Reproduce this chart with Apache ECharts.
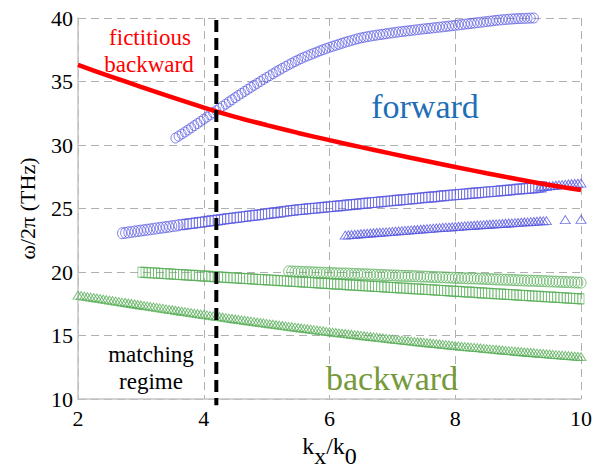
<!DOCTYPE html>
<html><head><meta charset="utf-8">
<script src="https://cdn.jsdelivr.net/npm/echarts@6/dist/echarts.min.js"></script>
<style>html,body{margin:0;padding:0;background:#fff}#c{width:604px;height:470px}</style>
</head><body><div id="c"></div>
<script>
// axis ticks
const xTicks = [2, 4, 6, 8, 10];
const yTicks = [10, 15, 20, 25, 30, 35, 40];
const matchingK = 4.2;

// red line: fictitious backward [k, f]
const fictitiousBackward = [[2,36.3],[2.5,35.43],[3,34.58],[3.5,33.75],[4,32.95],[4.5,32.22],[5,31.57],[5.5,30.95],[6,30.38],[6.5,29.83],[7,29.3],[7.5,28.78],[8,28.27],[8.5,27.78],[9,27.3],[9.5,26.85],[10,26.45]];

// forward (blue) modes
const blueTopCircles = [[3.55,30.55],[3.6,30.7],[3.65,30.86],[3.7,31.02],[3.75,31.18],[3.8,31.35],[3.85,31.52],[3.9,31.69],[3.95,31.86],[4,32.03],[4.05,32.2],[4.1,32.37],[4.15,32.54],[4.2,32.71],[4.25,32.88],[4.3,33.05],[4.35,33.22],[4.4,33.39],[4.45,33.56],[4.5,33.73],[4.55,33.9],[4.6,34.06],[4.65,34.22],[4.7,34.38],[4.75,34.54],[4.8,34.7],[4.85,34.85],[4.9,35],[4.95,35.16],[5,35.31],[5.05,35.46],[5.1,35.61],[5.15,35.76],[5.2,35.9],[5.25,36.04],[5.3,36.18],[5.35,36.31],[5.4,36.44],[5.45,36.57],[5.5,36.69],[5.55,36.81],[5.6,36.92],[5.65,37.02],[5.7,37.12],[5.75,37.22],[5.8,37.32],[5.85,37.42],[5.9,37.51],[5.95,37.6],[6,37.69],[6.05,37.77],[6.1,37.85],[6.15,37.93],[6.2,38.01],[6.25,38.09],[6.3,38.16],[6.35,38.23],[6.4,38.3],[6.45,38.37],[6.5,38.43],[6.55,38.48],[6.6,38.53],[6.65,38.57],[6.7,38.61],[6.75,38.65],[6.8,38.69],[6.85,38.72],[6.9,38.76],[6.95,38.8],[7,38.83],[7.05,38.87],[7.1,38.9],[7.15,38.93],[7.2,38.96],[7.25,38.99],[7.3,39.02],[7.35,39.05],[7.4,39.08],[7.45,39.11],[7.5,39.14],[7.55,39.17],[7.6,39.19],[7.65,39.22],[7.7,39.25],[7.75,39.28],[7.8,39.3],[7.85,39.33],[7.9,39.36],[7.95,39.39],[8,39.42],[8.05,39.45],[8.1,39.48],[8.15,39.51],[8.2,39.54],[8.25,39.57],[8.3,39.6],[8.35,39.63],[8.4,39.66],[8.45,39.69],[8.5,39.72],[8.55,39.75],[8.6,39.78],[8.65,39.81],[8.7,39.84],[8.75,39.86],[8.8,39.88],[8.85,39.9],[8.9,39.92],[8.95,39.94],[9,39.95],[9.05,39.96],[9.1,39.97],[9.15,39.98],[9.2,39.99],[9.25,40]];

const blueMidCircles = [[2.7,23.05],[2.75,23.08],[2.8,23.12],[2.85,23.15],[2.9,23.19],[2.95,23.22],[3,23.26],[3.05,23.29],[3.1,23.33],[3.15,23.36],[3.2,23.4],[3.25,23.43],[3.3,23.47],[3.35,23.5],[3.4,23.54],[3.45,23.57],[3.5,23.61],[3.55,23.64],[3.6,23.68]];

const blueMidSquares = [[3.65,23.72],[3.7,23.75],[3.75,23.79],[3.8,23.82],[3.85,23.85],[3.9,23.89],[3.95,23.92],[4,23.95],[4.05,23.99],[4.1,24.02],[4.15,24.05],[4.2,24.08],[4.25,24.11],[4.3,24.14],[4.35,24.18],[4.4,24.21],[4.45,24.24],[4.5,24.27],[4.55,24.3],[4.6,24.33],[4.65,24.37],[4.7,24.4],[4.75,24.43],[4.8,24.46],[4.85,24.49],[4.9,24.52],[4.95,24.55],[5,24.59],[5.05,24.62],[5.1,24.65],[5.15,24.68],[5.2,24.71],[5.25,24.74],[5.3,24.78],[5.35,24.81],[5.4,24.84],[5.45,24.87],[5.5,24.9],[5.55,24.92],[5.6,24.95],[5.65,24.97],[5.7,25],[5.75,25.02],[5.8,25.04],[5.85,25.07],[5.9,25.09],[5.95,25.11],[6,25.14],[6.05,25.16],[6.1,25.19],[6.15,25.21],[6.2,25.23],[6.25,25.26],[6.3,25.28],[6.35,25.3],[6.4,25.33],[6.45,25.35],[6.5,25.38],[6.55,25.4],[6.6,25.42],[6.65,25.45],[6.7,25.47],[6.75,25.49],[6.8,25.52],[6.85,25.54],[6.9,25.57],[6.95,25.59],[7,25.61],[7.05,25.64],[7.1,25.66],[7.15,25.68],[7.2,25.71],[7.25,25.73],[7.3,25.76],[7.35,25.78],[7.4,25.8],[7.45,25.83],[7.5,25.85],[7.55,25.87],[7.6,25.9],[7.65,25.92],[7.7,25.94],[7.75,25.97],[7.8,25.99],[7.85,26.01],[7.9,26.04],[7.95,26.06],[8,26.08],[8.05,26.1],[8.1,26.12],[8.15,26.14],[8.2,26.17],[8.25,26.19],[8.3,26.21],[8.35,26.23],[8.4,26.25],[8.45,26.28],[8.5,26.3],[8.55,26.32],[8.6,26.34],[8.65,26.36],[8.7,26.39],[8.75,26.41],[8.8,26.43],[8.85,26.45],[8.9,26.47],[8.95,26.5],[9,26.52],[9.05,26.54],[9.1,26.56],[9.15,26.58],[9.2,26.61],[9.25,26.63],[9.3,26.65],[9.35,26.67],[9.4,26.7]];

const blueMidTriangles = [[9.35,26.69],[9.4,26.72],[9.45,26.75],[9.5,26.78],[9.55,26.8],[9.6,26.83],[9.65,26.86],[9.7,26.88],[9.75,26.9],[9.8,26.93],[9.85,26.95],[9.9,26.97],[9.95,26.99],[10,27]];

const blueLowTriangles = [[6.25,22.91],[6.3,22.93],[6.35,22.95],[6.4,22.97],[6.45,22.99],[6.5,23.01],[6.55,23.03],[6.6,23.05],[6.65,23.07],[6.7,23.09],[6.75,23.11],[6.8,23.13],[6.85,23.14],[6.9,23.16],[6.95,23.18],[7,23.2],[7.05,23.22],[7.1,23.24],[7.15,23.26],[7.2,23.28],[7.25,23.3],[7.3,23.32],[7.35,23.33],[7.4,23.35],[7.45,23.37],[7.5,23.39],[7.55,23.41],[7.6,23.43],[7.65,23.45],[7.7,23.47],[7.75,23.49],[7.8,23.51],[7.85,23.53],[7.9,23.54],[7.95,23.56],[8,23.58],[8.05,23.6],[8.1,23.61],[8.15,23.63],[8.2,23.65],[8.25,23.66],[8.3,23.68],[8.35,23.7],[8.4,23.71],[8.45,23.73],[8.5,23.74],[8.55,23.76],[8.6,23.78],[8.65,23.79],[8.7,23.81],[8.75,23.82],[8.8,23.84],[8.85,23.86],[8.9,23.87],[8.95,23.89],[9,23.9],[9.05,23.92],[9.1,23.94],[9.15,23.95],[9.2,23.97],[9.25,23.98],[9.3,24],[9.35,24.02],[9.4,24.03],[9.45,24.05],[9.75,24.12],[10,24.15]];

// backward (green) modes
const greenCircles = [[5.35,20.05],[5.4,20.04],[5.45,20.03],[5.5,20.02],[5.55,20.01],[5.6,20],[5.65,19.99],[5.7,19.98],[5.75,19.97],[5.8,19.96],[5.85,19.95],[5.9,19.94],[5.95,19.93],[6,19.92],[6.05,19.91],[6.1,19.9],[6.15,19.89],[6.2,19.88],[6.25,19.88],[6.3,19.87],[6.35,19.86],[6.4,19.85],[6.45,19.84],[6.5,19.83],[6.55,19.82],[6.6,19.81],[6.65,19.8],[6.7,19.79],[6.75,19.78],[6.8,19.77],[6.85,19.76],[6.9,19.75],[6.95,19.74],[7,19.73],[7.05,19.72],[7.1,19.71],[7.15,19.7],[7.2,19.69],[7.25,19.69],[7.3,19.68],[7.35,19.67],[7.4,19.66],[7.45,19.65],[7.5,19.64],[7.55,19.63],[7.6,19.62],[7.65,19.61],[7.7,19.6],[7.75,19.59],[7.8,19.58],[7.85,19.57],[7.9,19.56],[7.95,19.55],[8,19.54],[8.05,19.53],[8.1,19.52],[8.15,19.51],[8.2,19.5],[8.25,19.5],[8.3,19.49],[8.35,19.48],[8.4,19.47],[8.45,19.46],[8.5,19.45],[8.55,19.44],[8.6,19.43],[8.65,19.42],[8.7,19.41],[8.75,19.4],[8.8,19.39],[8.85,19.38],[8.9,19.37],[8.95,19.36],[9,19.35],[9.05,19.34],[9.1,19.33],[9.15,19.32],[9.2,19.31],[9.25,19.31],[9.3,19.3],[9.35,19.29],[9.4,19.28],[9.45,19.27],[9.5,19.26],[9.55,19.25],[9.6,19.24],[9.65,19.23],[9.7,19.22],[9.75,19.21],[9.8,19.2],[9.85,19.19],[9.9,19.18],[9.95,19.17],[10,19.16]];

const greenSquares = [[3,19.98],[3.05,19.97],[3.1,19.95],[3.15,19.94],[3.2,19.92],[3.25,19.91],[3.3,19.89],[3.35,19.88],[3.4,19.86],[3.45,19.85],[3.5,19.83],[3.55,19.82],[3.6,19.8],[3.65,19.79],[3.7,19.77],[3.75,19.76],[3.8,19.74],[3.85,19.73],[3.9,19.71],[3.95,19.7],[4,19.68],[4.05,19.67],[4.1,19.65],[4.15,19.64],[4.2,19.62],[4.25,19.61],[4.3,19.59],[4.35,19.58],[4.4,19.56],[4.45,19.55],[4.5,19.53],[4.55,19.52],[4.6,19.5],[4.65,19.49],[4.7,19.47],[4.75,19.46],[4.8,19.44],[4.85,19.43],[4.9,19.41],[4.95,19.4],[5,19.38],[5.05,19.37],[5.1,19.35],[5.15,19.34],[5.2,19.32],[5.25,19.31],[5.3,19.29],[5.35,19.28],[5.4,19.26],[5.45,19.25],[5.5,19.23],[5.55,19.22],[5.6,19.2],[5.65,19.19],[5.7,19.17],[5.75,19.16],[5.8,19.14],[5.85,19.13],[5.9,19.11],[5.95,19.1],[6,19.08],[6.05,19.07],[6.1,19.05],[6.15,19.04],[6.2,19.02],[6.25,19.01],[6.3,18.99],[6.35,18.98],[6.4,18.96],[6.45,18.95],[6.5,18.93],[6.55,18.92],[6.6,18.9],[6.65,18.89],[6.7,18.87],[6.75,18.86],[6.8,18.84],[6.85,18.83],[6.9,18.81],[6.95,18.8],[7,18.78],[7.05,18.77],[7.1,18.75],[7.15,18.74],[7.2,18.72],[7.25,18.71],[7.3,18.69],[7.35,18.68],[7.4,18.66],[7.45,18.65],[7.5,18.63],[7.55,18.62],[7.6,18.6],[7.65,18.59],[7.7,18.57],[7.75,18.56],[7.8,18.54],[7.85,18.53],[7.9,18.51],[7.95,18.5],[8,18.48],[8.05,18.47],[8.1,18.45],[8.15,18.44],[8.2,18.42],[8.25,18.41],[8.3,18.39],[8.35,18.38],[8.4,18.36],[8.45,18.35],[8.5,18.33],[8.55,18.32],[8.6,18.3],[8.65,18.29],[8.7,18.27],[8.75,18.26],[8.8,18.24],[8.85,18.23],[8.9,18.21],[8.95,18.2],[9,18.18],[9.05,18.17],[9.1,18.15],[9.15,18.14],[9.2,18.12],[9.25,18.11],[9.3,18.09],[9.35,18.08],[9.4,18.06],[9.45,18.05],[9.5,18.03],[9.55,18.02],[9.6,18],[9.65,17.99],[9.7,17.97],[9.75,17.96],[9.8,17.94],[9.85,17.93],[9.9,17.91],[9.95,17.9],[10,17.88]];

const greenTriangles = [[2,18.18],[2.05,18.14],[2.1,18.1],[2.15,18.06],[2.2,18.02],[2.25,17.99],[2.3,17.95],[2.35,17.91],[2.4,17.87],[2.45,17.83],[2.5,17.79],[2.55,17.75],[2.6,17.71],[2.65,17.67],[2.7,17.63],[2.75,17.6],[2.8,17.56],[2.85,17.52],[2.9,17.48],[2.95,17.44],[3,17.4],[3.05,17.36],[3.1,17.33],[3.15,17.29],[3.2,17.25],[3.25,17.21],[3.3,17.18],[3.35,17.14],[3.4,17.1],[3.45,17.06],[3.5,17.03],[3.55,16.99],[3.6,16.95],[3.65,16.91],[3.7,16.88],[3.75,16.84],[3.8,16.8],[3.85,16.76],[3.9,16.73],[3.95,16.69],[4,16.65],[4.05,16.62],[4.1,16.58],[4.15,16.55],[4.2,16.51],[4.25,16.48],[4.3,16.44],[4.35,16.41],[4.4,16.37],[4.45,16.34],[4.5,16.3],[4.55,16.27],[4.6,16.23],[4.65,16.2],[4.7,16.16],[4.75,16.13],[4.8,16.09],[4.85,16.06],[4.9,16.02],[4.95,15.99],[5,15.95],[5.05,15.92],[5.1,15.89],[5.15,15.85],[5.2,15.82],[5.25,15.79],[5.3,15.76],[5.35,15.72],[5.4,15.69],[5.45,15.66],[5.5,15.63],[5.55,15.59],[5.6,15.56],[5.65,15.53],[5.7,15.5],[5.75,15.46],[5.8,15.43],[5.85,15.4],[5.9,15.37],[5.95,15.33],[6,15.3],[6.05,15.27],[6.1,15.24],[6.15,15.21],[6.2,15.18],[6.25,15.16],[6.3,15.13],[6.35,15.1],[6.4,15.07],[6.45,15.04],[6.5,15.01],[6.55,14.98],[6.6,14.95],[6.65,14.92],[6.7,14.89],[6.75,14.87],[6.8,14.84],[6.85,14.81],[6.9,14.78],[6.95,14.75],[7,14.72],[7.05,14.69],[7.1,14.67],[7.15,14.64],[7.2,14.62],[7.25,14.59],[7.3,14.56],[7.35,14.54],[7.4,14.51],[7.45,14.49],[7.5,14.46],[7.55,14.43],[7.6,14.41],[7.65,14.38],[7.7,14.36],[7.75,14.33],[7.8,14.3],[7.85,14.28],[7.9,14.25],[7.95,14.23],[8,14.2],[8.05,14.18],[8.1,14.15],[8.15,14.13],[8.2,14.11],[8.25,14.09],[8.3,14.06],[8.35,14.04],[8.4,14.02],[8.45,13.99],[8.5,13.97],[8.55,13.95],[8.6,13.93],[8.65,13.9],[8.7,13.88],[8.75,13.86],[8.8,13.83],[8.85,13.81],[8.9,13.79],[8.95,13.76],[9,13.74],[9.05,13.72],[9.1,13.7],[9.15,13.68],[9.2,13.66],[9.25,13.64],[9.3,13.62],[9.35,13.6],[9.4,13.58],[9.45,13.56],[9.5,13.54],[9.55,13.51],[9.6,13.49],[9.65,13.47],[9.7,13.45],[9.75,13.43],[9.8,13.41],[9.85,13.39],[9.9,13.37],[9.95,13.35],[10,13.33]];

const matchingLine = [[matchingK, 39.85], [matchingK, 9.5]];

const FAM = 'Liberation Serif';
const BLUE = '#5252e0';
const GREEN = '#55ad55';

function markers(data, symbol, size, color) {
  return {
    type: 'scatter', data: data, symbol: symbol, symbolSize: size, clip: false,
    itemStyle: { color: 'rgba(0,0,0,0)', borderColor: color, borderWidth: 0.9 },
    emphasis: { disabled: true }, z: 2
  };
}
function txt(x, y, s, size, color) {
  return { type: 'text', x: x, y: y, z: 10,
    style: { text: s, fontFamily: FAM, fontSize: size, fill: color, textAlign: 'center', textVerticalAlign: 'middle' } };
}

const chart = echarts.init(document.getElementById('c'), null, { renderer: 'svg' });
chart.setOption({
  animation: false,
  backgroundColor: '#fff',
  grid: { left: 78, top: 18, right: 23, bottom: 71, containLabel: false, outerBoundsMode: 'none' },
  xAxis: {
    type: 'value', min: xTicks[0], max: xTicks[xTicks.length - 1], interval: 2,
    axisLine: { show: true, lineStyle: { color: '#c4c4c4', width: 1.5 } },
    axisTick: { show: false },
    axisLabel: { fontFamily: FAM, fontSize: 22, color: '#000', margin: 8 },
    splitLine: { show: true, lineStyle: { color: '#b0b0b0', type: [8, 5], width: 1 } },
    name: '{m|k}{s|x}{m|/k}{s|0}', nameLocation: 'middle', nameGap: 34,
    nameTextStyle: {
      fontFamily: FAM, fontSize: 24, color: '#000',
      rich: {
        m: { fontFamily: FAM, fontSize: 24, color: '#000', verticalAlign: 'top' },
        s: { fontFamily: FAM, fontSize: 24, color: '#000', verticalAlign: 'bottom', lineHeight: 34 }
      }
    }
  },
  yAxis: {
    type: 'value', min: yTicks[0], max: yTicks[yTicks.length - 1], interval: 5,
    axisLine: { show: true, lineStyle: { color: '#c4c4c4', width: 1.5 } },
    axisTick: { show: false },
    axisLabel: { fontFamily: FAM, fontSize: 22, color: '#000', margin: 5 },
    splitLine: { show: true, lineStyle: { color: '#b0b0b0', type: [8, 5], width: 1 } },
    name: 'ω/2π (THz)', nameLocation: 'middle', nameGap: 40, nameRotate: 90,
    nameTextStyle: { fontFamily: FAM, fontSize: 22, color: '#000' }
  },
  series: [
    markers(greenTriangles, 'triangle', [10, 8], GREEN),
    markers(greenSquares, 'rect', [6, 10], GREEN),
    markers(greenCircles, 'circle', [10, 11], GREEN),
    markers(blueLowTriangles, 'triangle', [10, 8], BLUE),
    markers(blueMidCircles, 'circle', [9, 11], BLUE),
    markers(blueMidSquares, 'rect', [6, 10], BLUE),
    markers(blueMidTriangles, 'triangle', [10, 8], BLUE),
    markers(blueTopCircles, 'circle', [9, 10], BLUE),
    {
      type: 'line', data: fictitiousBackward, showSymbol: false, symbol: 'none', smooth: 0.3,
      lineStyle: { color: '#ff0000', width: 4.5 }, z: 3, clip: false, emphasis: { disabled: true }
    },
    {
      type: 'line', data: matchingLine, showSymbol: false, symbol: 'none', clip: false,
      lineStyle: { color: '#000', width: 4, type: [12, 6] }, z: 4, emphasis: { disabled: true }
    }
  ],
  graphic: [
    txt(150, 37, 'fictitious', 23, '#ff0000'),
    txt(149, 64, 'backward', 23, '#ff0000'),
    txt(425, 106, 'forward', 34, '#1f6fb8'),
    txt(392, 378, 'backward', 34, '#76993a'),
    txt(151, 354, 'matching', 23, '#000'),
    txt(151, 381, 'regime', 23, '#000')
  ]
});
</script>
</body></html>
